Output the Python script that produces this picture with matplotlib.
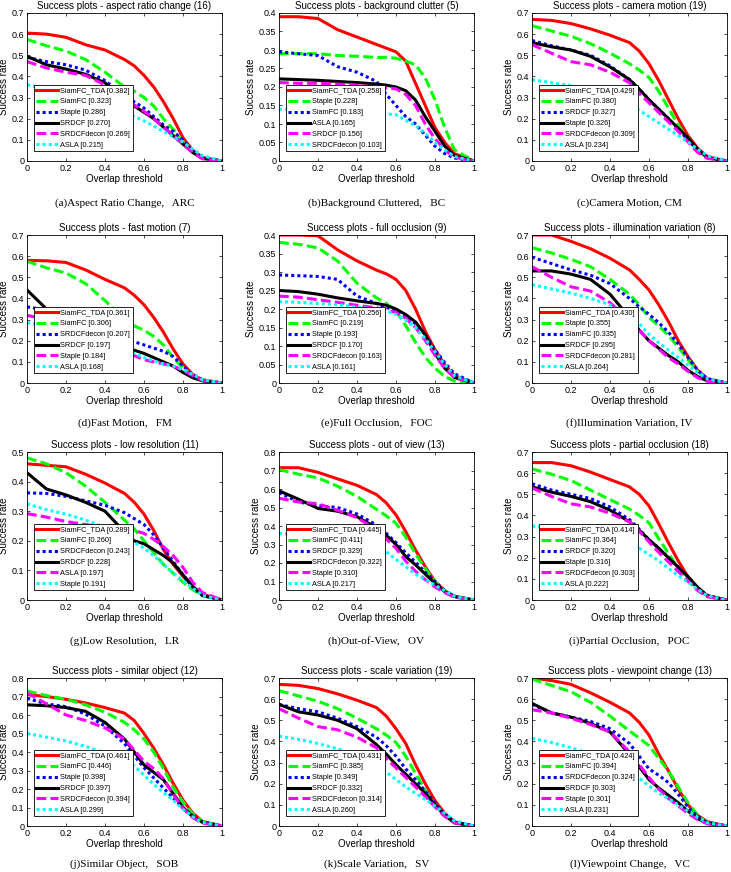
import matplotlib
matplotlib.use("Agg")
import matplotlib.pyplot as plt
from matplotlib.ticker import FormatStrFormatter, MultipleLocator

# common overlap thresholds that the curves were read at
thr = [0, 0.1, 0.2, 0.3, 0.4, 0.5, 0.55, 0.6, 0.65, 0.7, 0.75, 0.8, 0.85, 0.9, 1.0]

# (a) aspect ratio change
arc_names = ["SiamFC_TDA [0.382]", "SiamFC [0.323]", "Staple [0.286]",
             "SRDCF [0.270]", "SRDCFdecon [0.269]", "ASLA [0.215]"]
arc_vals = [
    [0.605, 0.60, 0.585, 0.55, 0.525, 0.48, 0.45, 0.405, 0.35, 0.28, 0.20, 0.11, 0.05, 0.015, 0],
    [0.575, 0.545, 0.52, 0.48, 0.42, 0.35, 0.33, 0.30, 0.26, 0.20, 0.15, 0.09, 0.04, 0.015, 0],
    [0.49, 0.47, 0.455, 0.43, 0.38, 0.31, 0.28, 0.25, 0.21, 0.17, 0.14, 0.10, 0.05, 0.015, 0],
    [0.495, 0.455, 0.435, 0.41, 0.37, 0.29, 0.26, 0.23, 0.20, 0.16, 0.12, 0.08, 0.04, 0.012, 0],
    [0.47, 0.44, 0.42, 0.405, 0.36, 0.295, 0.265, 0.235, 0.20, 0.16, 0.12, 0.08, 0.04, 0.01, 0],
    [0.36, 0.345, 0.33, 0.31, 0.28, 0.23, 0.21, 0.19, 0.165, 0.14, 0.115, 0.09, 0.055, 0.025, 0],
]

# (b) background clutter
bc_names = ["SiamFC_TDA [0.258]", "Staple [0.228]", "SiamFC [0.183]",
            "ASLA [0.165]", "SRDCF [0.156]", "SRDCFdecon [0.103]"]
bc_vals = [
    [0.39, 0.39, 0.385, 0.355, 0.335, 0.315, 0.305, 0.295, 0.27, 0.21, 0.15, 0.09, 0.05, 0.02, 0],
    [0.29, 0.29, 0.29, 0.285, 0.283, 0.28, 0.28, 0.278, 0.27, 0.26, 0.225, 0.165, 0.09, 0.03, 0],
    [0.295, 0.29, 0.285, 0.255, 0.24, 0.215, 0.18, 0.15, 0.12, 0.10, 0.07, 0.04, 0.02, 0.008, 0],
    [0.222, 0.22, 0.218, 0.215, 0.212, 0.208, 0.205, 0.20, 0.19, 0.165, 0.12, 0.08, 0.04, 0.015, 0],
    [0.212, 0.21, 0.21, 0.208, 0.205, 0.20, 0.198, 0.195, 0.18, 0.15, 0.10, 0.06, 0.03, 0.01, 0],
    [0.14, 0.138, 0.135, 0.133, 0.13, 0.128, 0.127, 0.125, 0.11, 0.095, 0.075, 0.05, 0.03, 0.012, 0],
]

# (c) camera motion
cm_names = ["SiamFC_TDA [0.429]", "SiamFC [0.380]", "SRDCF [0.327]",
            "Staple [0.326]", "SRDCFdecon [0.309]", "ASLA [0.234]"]
cm_vals = [
    [0.67, 0.665, 0.65, 0.625, 0.595, 0.56, 0.52, 0.46, 0.38, 0.29, 0.20, 0.12, 0.06, 0.02, 0],
    [0.64, 0.615, 0.59, 0.555, 0.51, 0.46, 0.43, 0.395, 0.33, 0.25, 0.17, 0.10, 0.05, 0.015, 0],
    [0.57, 0.545, 0.525, 0.50, 0.45, 0.385, 0.34, 0.29, 0.245, 0.20, 0.15, 0.10, 0.05, 0.015, 0],
    [0.56, 0.54, 0.525, 0.495, 0.445, 0.385, 0.34, 0.29, 0.245, 0.20, 0.155, 0.11, 0.055, 0.015, 0],
    [0.55, 0.51, 0.47, 0.455, 0.42, 0.37, 0.32, 0.275, 0.23, 0.185, 0.14, 0.09, 0.04, 0.012, 0],
    [0.385, 0.37, 0.355, 0.34, 0.315, 0.27, 0.24, 0.21, 0.18, 0.15, 0.12, 0.09, 0.055, 0.025, 0],
]

# (d) fast motion
fm_names = ["SiamFC_TDA [0.361]", "SiamFC [0.306]", "SRDCFdecon [0.207]",
            "SRDCF [0.197]", "Staple [0.184]", "ASLA [0.168]"]
fm_vals = [
    [0.58, 0.578, 0.57, 0.535, 0.49, 0.45, 0.415, 0.37, 0.31, 0.24, 0.16, 0.09, 0.04, 0.015, 0],
    [0.575, 0.545, 0.52, 0.47, 0.39, 0.30, 0.27, 0.25, 0.22, 0.18, 0.12, 0.07, 0.035, 0.012, 0],
    [0.36, 0.345, 0.33, 0.30, 0.26, 0.21, 0.195, 0.18, 0.165, 0.15, 0.125, 0.08, 0.04, 0.015, 0],
    [0.44, 0.35, 0.30, 0.25, 0.20, 0.16, 0.155, 0.14, 0.12, 0.10, 0.08, 0.05, 0.025, 0.01, 0],
    [0.32, 0.30, 0.27, 0.24, 0.20, 0.155, 0.13, 0.11, 0.10, 0.09, 0.08, 0.06, 0.035, 0.012, 0],
    [0.285, 0.275, 0.26, 0.23, 0.20, 0.16, 0.14, 0.12, 0.105, 0.09, 0.08, 0.065, 0.04, 0.015, 0],
]

# (e) full occlusion
foc_names = ["SiamFC_TDA [0.256]", "SiamFC [0.219]", "Staple [0.193]",
             "SRDCF [0.170]", "SRDCFdecon [0.163]", "ASLA [0.161]"]
foc_vals = [
    [0.40, 0.40, 0.398, 0.36, 0.33, 0.305, 0.295, 0.28, 0.25, 0.20, 0.14, 0.09, 0.05, 0.02, 0],
    [0.38, 0.375, 0.365, 0.33, 0.27, 0.23, 0.215, 0.195, 0.155, 0.11, 0.07, 0.04, 0.018, 0.005, 0],
    [0.292, 0.29, 0.288, 0.28, 0.235, 0.215, 0.205, 0.195, 0.18, 0.16, 0.13, 0.09, 0.055, 0.025, 0],
    [0.25, 0.247, 0.24, 0.23, 0.222, 0.215, 0.21, 0.20, 0.185, 0.165, 0.13, 0.08, 0.04, 0.015, 0],
    [0.235, 0.232, 0.225, 0.218, 0.21, 0.203, 0.198, 0.19, 0.175, 0.15, 0.115, 0.075, 0.04, 0.015, 0],
    [0.22, 0.218, 0.215, 0.212, 0.205, 0.20, 0.195, 0.185, 0.17, 0.15, 0.12, 0.085, 0.05, 0.02, 0],
]

# (f) illumination variation
iv_names = ["SiamFC_TDA [0.430]", "Staple [0.355]", "SiamFC [0.335]",
            "SRDCF [0.295]", "SRDCFdecon [0.281]", "ASLA [0.264]"]
iv_vals = [
    [0.70, 0.70, 0.67, 0.635, 0.59, 0.535, 0.49, 0.44, 0.37, 0.29, 0.20, 0.125, 0.06, 0.02, 0],
    [0.64, 0.615, 0.585, 0.55, 0.49, 0.42, 0.37, 0.31, 0.27, 0.225, 0.17, 0.11, 0.055, 0.015, 0],
    [0.595, 0.565, 0.535, 0.51, 0.47, 0.40, 0.36, 0.325, 0.285, 0.24, 0.185, 0.12, 0.06, 0.02, 0],
    [0.53, 0.53, 0.515, 0.49, 0.42, 0.31, 0.25, 0.20, 0.165, 0.13, 0.10, 0.06, 0.03, 0.01, 0],
    [0.55, 0.50, 0.455, 0.435, 0.38, 0.30, 0.25, 0.20, 0.16, 0.12, 0.09, 0.055, 0.025, 0.008, 0],
    [0.465, 0.445, 0.425, 0.40, 0.37, 0.32, 0.28, 0.23, 0.19, 0.155, 0.12, 0.085, 0.05, 0.02, 0],
]

# (g) low resolution
lr_names = ["SiamFC_TDA [0.289]", "SiamFC [0.260]", "SRDCFdecon [0.243]",
            "SRDCF [0.228]", "ASLA [0.197]", "Staple [0.191]"]
lr_vals = [
    [0.46, 0.455, 0.45, 0.425, 0.395, 0.36, 0.33, 0.29, 0.235, 0.17, 0.12, 0.08, 0.045, 0.02, 0],
    [0.48, 0.46, 0.43, 0.385, 0.33, 0.27, 0.24, 0.20, 0.16, 0.12, 0.09, 0.06, 0.035, 0.015, 0],
    [0.362, 0.36, 0.35, 0.335, 0.32, 0.295, 0.275, 0.255, 0.22, 0.175, 0.13, 0.085, 0.045, 0.015, 0],
    [0.43, 0.375, 0.355, 0.33, 0.30, 0.23, 0.20, 0.19, 0.17, 0.15, 0.125, 0.085, 0.045, 0.015, 0],
    [0.292, 0.28, 0.265, 0.255, 0.245, 0.24, 0.235, 0.225, 0.205, 0.18, 0.15, 0.11, 0.06, 0.025, 0],
    [0.325, 0.305, 0.29, 0.27, 0.245, 0.215, 0.195, 0.175, 0.15, 0.12, 0.09, 0.065, 0.04, 0.015, 0],
]

# (h) out of view
ov_names = ["SiamFC_TDA [0.445]", "SiamFC [0.411]", "SRDCF [0.329]",
            "SRDCFdecon [0.322]", "Staple [0.310]", "ASLA [0.217]"]
ov_vals = [
    [0.715, 0.715, 0.69, 0.655, 0.62, 0.57, 0.525, 0.46, 0.37, 0.27, 0.18, 0.10, 0.05, 0.02, 0],
    [0.705, 0.68, 0.66, 0.615, 0.56, 0.49, 0.455, 0.415, 0.34, 0.25, 0.17, 0.10, 0.05, 0.02, 0],
    [0.58, 0.53, 0.51, 0.50, 0.465, 0.405, 0.36, 0.31, 0.255, 0.205, 0.15, 0.10, 0.05, 0.02, 0],
    [0.59, 0.545, 0.495, 0.48, 0.45, 0.39, 0.35, 0.30, 0.235, 0.19, 0.14, 0.09, 0.045, 0.018, 0],
    [0.55, 0.53, 0.52, 0.485, 0.445, 0.38, 0.33, 0.28, 0.21, 0.155, 0.11, 0.07, 0.04, 0.015, 0],
    [0.36, 0.355, 0.35, 0.335, 0.32, 0.29, 0.26, 0.22, 0.18, 0.14, 0.11, 0.08, 0.05, 0.02, 0],
]

# (i) partial occlusion
poc_names = ["SiamFC_TDA [0.414]", "SiamFC [0.364]", "SRDCF [0.320]",
             "Staple [0.316]", "SRDCFdecon [0.303]", "ASLA [0.222]"]
poc_vals = [
    [0.65, 0.65, 0.635, 0.605, 0.57, 0.535, 0.50, 0.445, 0.36, 0.27, 0.185, 0.11, 0.055, 0.02, 0],
    [0.62, 0.595, 0.565, 0.52, 0.475, 0.43, 0.40, 0.365, 0.29, 0.22, 0.15, 0.09, 0.045, 0.015, 0],
    [0.55, 0.52, 0.50, 0.48, 0.44, 0.38, 0.335, 0.285, 0.245, 0.20, 0.155, 0.11, 0.055, 0.02, 0],
    [0.535, 0.51, 0.49, 0.465, 0.425, 0.37, 0.33, 0.285, 0.245, 0.20, 0.155, 0.11, 0.06, 0.02, 0],
    [0.53, 0.49, 0.455, 0.44, 0.41, 0.37, 0.325, 0.275, 0.225, 0.18, 0.135, 0.09, 0.045, 0.015, 0],
    [0.35, 0.34, 0.33, 0.315, 0.30, 0.27, 0.245, 0.215, 0.185, 0.15, 0.115, 0.085, 0.05, 0.02, 0],
]

# (j) similar object
sob_names = ["SiamFC_TDA [0.461]", "SiamFC [0.446]", "Staple [0.398]",
             "SRDCF [0.397]", "SRDCFdecon [0.394]", "ASLA [0.299]"]
sob_vals = [
    [0.71, 0.70, 0.685, 0.665, 0.64, 0.61, 0.57, 0.50, 0.42, 0.33, 0.23, 0.14, 0.07, 0.025, 0],
    [0.73, 0.705, 0.685, 0.655, 0.615, 0.56, 0.52, 0.47, 0.40, 0.31, 0.21, 0.13, 0.065, 0.025, 0],
    [0.69, 0.66, 0.645, 0.605, 0.54, 0.445, 0.38, 0.315, 0.26, 0.205, 0.15, 0.10, 0.055, 0.02, 0],
    [0.655, 0.65, 0.64, 0.62, 0.56, 0.47, 0.40, 0.33, 0.29, 0.25, 0.175, 0.10, 0.05, 0.02, 0],
    [0.72, 0.66, 0.60, 0.57, 0.53, 0.47, 0.41, 0.35, 0.31, 0.255, 0.17, 0.095, 0.045, 0.015, 0],
    [0.50, 0.48, 0.46, 0.43, 0.395, 0.355, 0.325, 0.275, 0.225, 0.18, 0.14, 0.09, 0.05, 0.02, 0],
]

# (k) scale variation
sv_names = ["SiamFC_TDA [0.431]", "SiamFC [0.385]", "Staple [0.349]",
            "SRDCF [0.332]", "SRDCFdecon [0.314]", "ASLA [0.260]"]
sv_vals = [
    [0.67, 0.665, 0.65, 0.625, 0.595, 0.56, 0.52, 0.46, 0.39, 0.29, 0.20, 0.12, 0.06, 0.02, 0],
    [0.64, 0.615, 0.59, 0.555, 0.51, 0.46, 0.43, 0.395, 0.33, 0.25, 0.17, 0.10, 0.05, 0.015, 0],
    [0.575, 0.555, 0.54, 0.51, 0.47, 0.42, 0.38, 0.33, 0.27, 0.22, 0.165, 0.11, 0.055, 0.018, 0],
    [0.575, 0.54, 0.525, 0.50, 0.46, 0.385, 0.34, 0.29, 0.245, 0.20, 0.155, 0.10, 0.05, 0.015, 0],
    [0.555, 0.51, 0.47, 0.455, 0.42, 0.37, 0.32, 0.275, 0.23, 0.185, 0.14, 0.09, 0.045, 0.015, 0],
    [0.425, 0.41, 0.39, 0.365, 0.33, 0.285, 0.255, 0.22, 0.185, 0.155, 0.125, 0.095, 0.06, 0.025, 0],
]

# (l) viewpoint change
vc_names = ["SiamFC_TDA [0.424]", "SiamFC [0.394]", "SRDCFdecon [0.324]",
            "SRDCF [0.303]", "Staple [0.301]", "ASLA [0.231]"]
vc_vals = [
    [0.70, 0.688, 0.67, 0.63, 0.585, 0.535, 0.49, 0.43, 0.34, 0.26, 0.175, 0.10, 0.05, 0.02, 0],
    [0.695, 0.665, 0.635, 0.585, 0.52, 0.45, 0.415, 0.38, 0.32, 0.26, 0.185, 0.11, 0.05, 0.015, 0],
    [0.575, 0.535, 0.515, 0.495, 0.46, 0.39, 0.33, 0.27, 0.24, 0.205, 0.15, 0.09, 0.045, 0.015, 0],
    [0.58, 0.535, 0.515, 0.485, 0.445, 0.34, 0.28, 0.22, 0.18, 0.145, 0.11, 0.07, 0.035, 0.012, 0],
    [0.55, 0.535, 0.51, 0.48, 0.445, 0.35, 0.29, 0.23, 0.175, 0.13, 0.095, 0.06, 0.03, 0.01, 0],
    [0.415, 0.395, 0.37, 0.34, 0.305, 0.26, 0.225, 0.19, 0.155, 0.13, 0.10, 0.07, 0.04, 0.015, 0],
]

titles = ["aspect ratio change (16)", "background clutter (5)", "camera motion (19)",
          "fast motion (7)", "full occlusion (9)", "illumination variation (8)",
          "low resolution (11)", "out of view (13)", "partial occlusion (18)",
          "similar object (12)", "scale variation (19)", "viewpoint change (13)"]
captions = ["(a)Aspect Ratio Change,   ARC", "(b)Background Cluttered,   BC",
            "(c)Camera Motion, CM", "(d)Fast Motion,   FM", "(e)Full Occlusion,   FOC",
            "(f)Illumination Variation, IV", "(g)Low Resolution,   LR",
            "(h)Out-of-View,   OV", "(i)Partial Occlusion,   POC",
            "(j)Similar Object,   SOB", "(k)Scale Variation,   SV",
            "(l)Viewpoint Change,   VC"]
ymax = [0.7, 0.4, 0.7, 0.7, 0.4, 0.7, 0.5, 0.8, 0.7, 0.8, 0.7, 0.7]

names = [arc_names, bc_names, cm_names, fm_names, foc_names, iv_names,
         lr_names, ov_names, poc_names, sob_names, sv_names, vc_names]
vals = [arc_vals, bc_vals, cm_vals, fm_vals, foc_vals, iv_vals,
        lr_vals, ov_vals, poc_vals, sob_vals, sv_vals, vc_vals]

# style by rank in the legend (MATLAB-ish)
colors = ["#ff0000", "#00ff00", "#0000ff", "#000000", "#ff00ff", "#00ffff"]
styles = ["-", (0, (3.2, 1.4)), (0, (1, 1)), "-", (0, (3.2, 1.4)), (0, (1, 1))]

plt.rcParams["font.family"] = ["Liberation Sans", "DejaVu Sans"]

W, H = 731, 872
fig = plt.figure(figsize=(W / 100, H / 100), dpi=100)

col_left = [27, 279, 532]
row_top = [13, 235, 452, 678]
cap_y = [203, 423, 641, 864]
aw, ah = 195, 148

for k in range(12):
    r, c = divmod(k, 3)
    ax = fig.add_axes([col_left[c] / W, 1 - (row_top[r] + ah) / H, aw / W, ah / H])
    for i in range(6):
        ax.plot(thr, vals[k][i], color=colors[i], linestyle=styles[i], lw=2.2,
                dash_capstyle="butt", label=names[k][i])
    ax.set_xlim(0, 1)
    ax.set_ylim(0, ymax[k])
    ax.xaxis.set_major_locator(MultipleLocator(0.2))
    ax.yaxis.set_major_locator(MultipleLocator(0.05 if ymax[k] == 0.4 else 0.1))
    ax.xaxis.set_major_formatter(FormatStrFormatter("%g"))
    ax.yaxis.set_major_formatter(FormatStrFormatter("%g"))
    ax.tick_params(direction="in", length=2, width=0.5, labelsize=6.5, pad=2,
                   top=True, right=True)
    for s in ax.spines.values():
        s.set_linewidth(0.6)
    ax.set_title("Success plots - " + titles[k], fontsize=7, pad=3)
    ax.set_xlabel("Overlap threshold", fontsize=7, labelpad=1)
    ax.set_ylabel("Success rate", fontsize=7, labelpad=2)
    leg = ax.legend(loc="lower left", bbox_to_anchor=(0.015, 0.04), fontsize=5.3,
                    handlelength=2.9, handletextpad=0.4, labelspacing=0.5,
                    borderpad=0.35, fancybox=False, framealpha=1, edgecolor="black")
    leg.get_frame().set_linewidth(0.6)
    fig.text((col_left[c] + aw / 2) / W, 1 - cap_y[r] / H, captions[k],
             ha="center", va="center", fontsize=8, family="Liberation Serif")

fig.savefig("out.png", dpi=100)
